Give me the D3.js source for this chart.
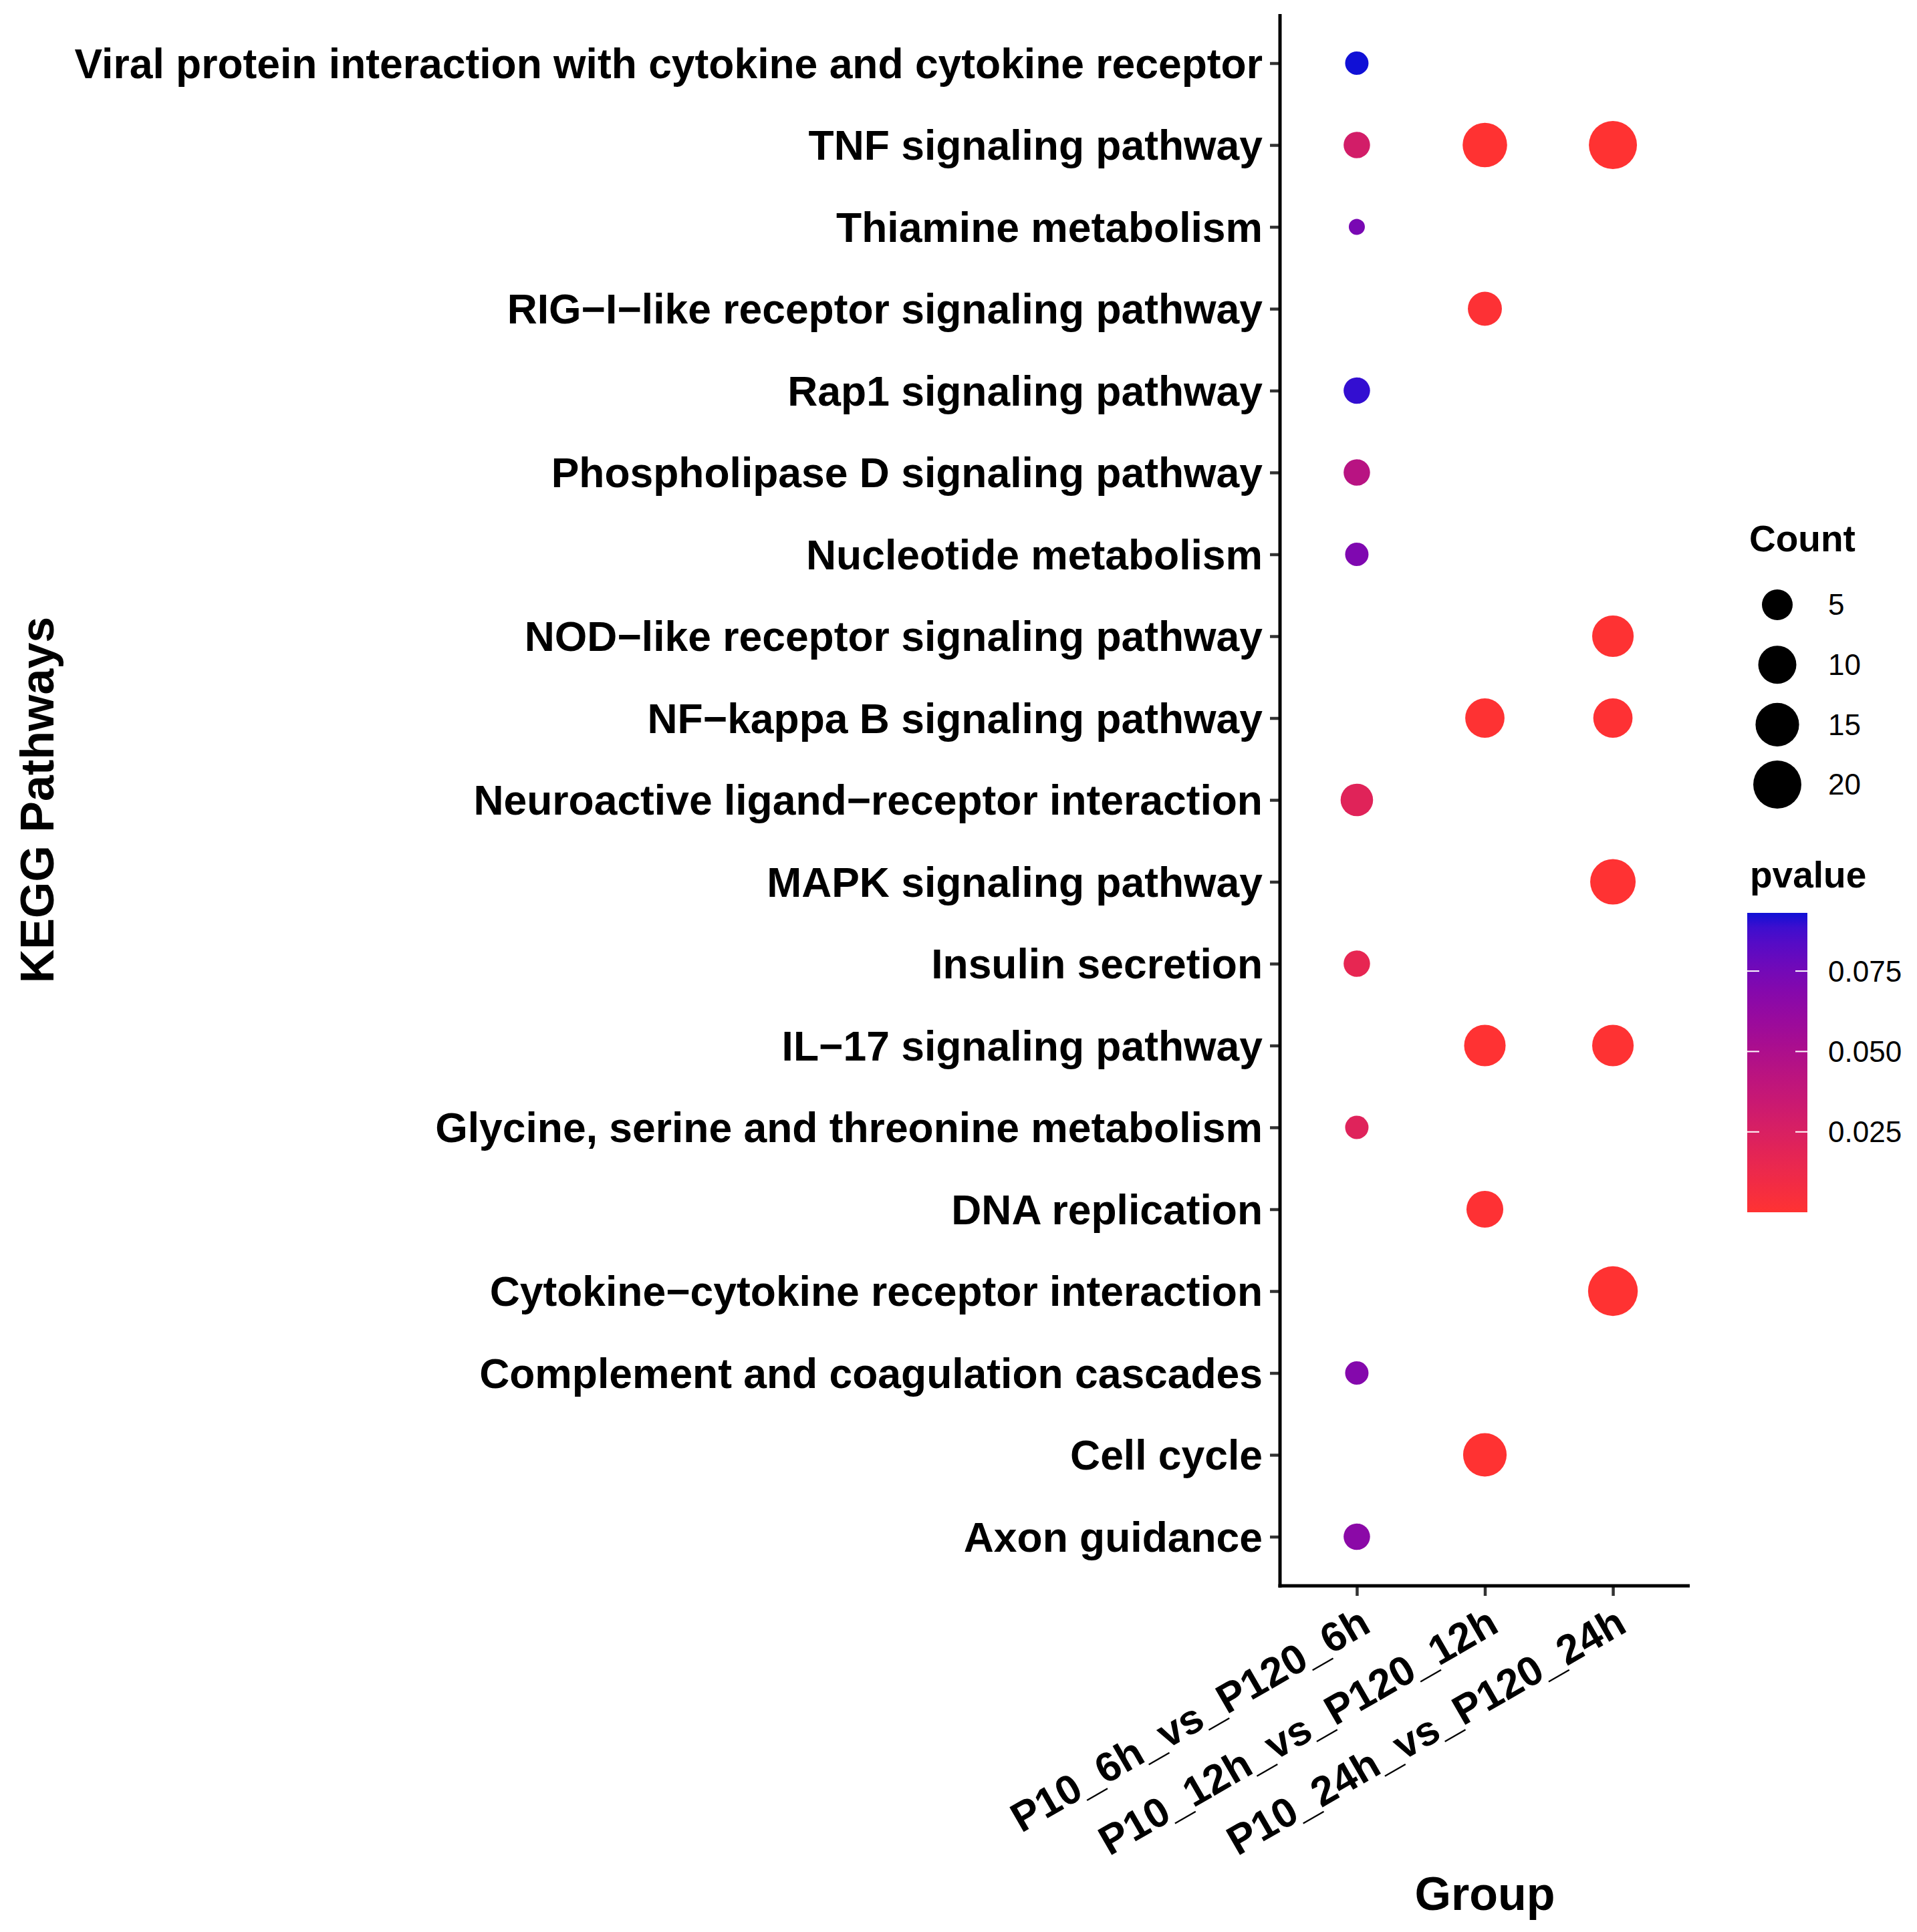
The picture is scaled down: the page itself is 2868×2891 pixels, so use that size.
<!DOCTYPE html>
<html>
<head>
<meta charset="utf-8">
<script src="https://cdn.jsdelivr.net/npm/d3@7"></script>
<style>
  html, body { margin: 0; padding: 0; background: #ffffff; }
  svg { display: block; }
</style>
</head>
<body>
<div id="chart"></div>
<script>
// ---------------- data ----------------
const pathways = [
  "Viral protein interaction with cytokine and cytokine receptor",
  "TNF signaling pathway",
  "Thiamine metabolism",
  "RIG\u2212I\u2212like receptor signaling pathway",
  "Rap1 signaling pathway",
  "Phospholipase D signaling pathway",
  "Nucleotide metabolism",
  "NOD\u2212like receptor signaling pathway",
  "NF\u2212kappa B signaling pathway",
  "Neuroactive ligand\u2212receptor interaction",
  "MAPK signaling pathway",
  "Insulin secretion",
  "IL\u221217 signaling pathway",
  "Glycine, serine and threonine metabolism",
  "DNA replication",
  "Cytokine\u2212cytokine receptor interaction",
  "Complement and coagulation cascades",
  "Cell cycle",
  "Axon guidance"
];
const groups = ["P10_6h_vs_P120_6h", "P10_12h_vs_P120_12h", "P10_24h_vs_P120_24h"];

// P10_6h_vs_P120_6h
const g6hPathways = [
  "Viral protein interaction with cytokine and cytokine receptor",
  "TNF signaling pathway",
  "Thiamine metabolism",
  "Rap1 signaling pathway",
  "Phospholipase D signaling pathway",
  "Nucleotide metabolism",
  "Neuroactive ligand\u2212receptor interaction",
  "Insulin secretion",
  "Glycine, serine and threonine metabolism",
  "Complement and coagulation cascades",
  "Axon guidance"
];
const g6hCounts  = [2, 3, 1, 3, 3, 2, 6, 3, 2, 2, 3];
const g6hPvalues = [0.0931, 0.029, 0.073, 0.090, 0.044, 0.071, 0.020, 0.016, 0.021, 0.069, 0.066];

// P10_12h_vs_P120_12h
const g12hPathways = [
  "TNF signaling pathway",
  "RIG\u2212I\u2212like receptor signaling pathway",
  "NF\u2212kappa B signaling pathway",
  "IL\u221217 signaling pathway",
  "DNA replication",
  "Cell cycle"
];
const g12hCounts  = [16, 7, 11, 13, 9, 15];
const g12hPvalues = [0.0002, 0.0012, 0.0006, 0.0003, 0.0009, 0.0001];

// P10_24h_vs_P120_24h
const g24hPathways = [
  "TNF signaling pathway",
  "NOD\u2212like receptor signaling pathway",
  "NF\u2212kappa B signaling pathway",
  "MAPK signaling pathway",
  "IL\u221217 signaling pathway",
  "Cytokine\u2212cytokine receptor interaction"
];
const g24hCounts  = [20, 13, 11, 17, 13, 22];
const g24hPvalues = [0.00002, 0.0006, 0.0010, 0.0003, 0.0005, 0.00001];

const countBreaks = [5, 10, 15, 20];
const pvalueBreaks = [0.025, 0.050, 0.075];

// ---------------- build records ----------------
const records = [];
[[g6hPathways, g6hCounts, g6hPvalues, groups[0]],
 [g12hPathways, g12hCounts, g12hPvalues, groups[1]],
 [g24hPathways, g24hCounts, g24hPvalues, groups[2]]].forEach(([ps, cs, pv, g]) => {
  ps.forEach((p, i) => records.push({pathway: p, group: g, count: cs[i], pvalue: pv[i]}));
});

// ---------------- layout ----------------
const W = 2868, H = 2891;
const panel = {left: 1915, right: 2528, top: 21, bottom: 2373};
const FONT = "'Liberation Sans', Arial, Helvetica, sans-serif";

const svg = d3.select("#chart").append("svg")
  .attr("width", W).attr("height", H)
  .attr("viewBox", `0 0 ${W} ${H}`)
  .style("font-family", FONT);

svg.append("rect").attr("width", W).attr("height", H).attr("fill", "#ffffff");

const x = d3.scalePoint().domain(groups).range([panel.left, panel.right]).padding(0.6);
const y = d3.scalePoint().domain(pathways).range([panel.top, panel.bottom]).padding(0.6);

const cExt = d3.extent(records, d => d.count);
const pExt = d3.extent(records, d => d.pvalue);
const sizeNorm = d3.scaleLinear().domain(cExt).range([0, 1]);
const diamLin = d3.scaleLinear().domain([0, 1]).range([24, 74.4]);
const diam = v => diamLin(Math.sqrt(Math.max(0, sizeNorm(v))));

const color = d3.scaleLinear().domain(pExt).range(["#ff3232", "#1010d6"]).interpolate(d3.interpolateLab);

// ---------------- points ----------------
svg.append("g").selectAll("circle")
  .data(records)
  .join("circle")
  .attr("cx", d => x(d.group))
  .attr("cy", d => y(d.pathway))
  .attr("r", d => diam(d.count) / 2)
  .attr("fill", d => color(d.pvalue));

// ---------------- axes ----------------
const yAxis = d3.axisLeft(y).tickSize(15).tickSizeOuter(0).tickPadding(11);
const gy = svg.append("g").attr("transform", `translate(${panel.left},0)`).call(yAxis);
gy.select(".domain").remove();
gy.selectAll(".tick line").attr("stroke", "#333333").attr("stroke-width", 4.5);
gy.selectAll(".tick text")
  .attr("fill", "#000000")
  .attr("font-size", 62.4)
  .attr("font-weight", "bold")
  .attr("font-family", FONT)
  .attr("dy", "0.35em");

const xAxis = d3.axisBottom(x).tickSize(15).tickSizeOuter(0);
const gx = svg.append("g").attr("transform", `translate(0,${panel.bottom})`).call(xAxis);
gx.select(".domain").remove();
gx.selectAll(".tick line").attr("stroke", "#333333").attr("stroke-width", 4.5);
gx.selectAll(".tick text").remove();
gx.selectAll(".tick").append("text")
  .attr("fill", "#000000")
  .attr("font-size", 62)
  .attr("font-weight", "bold")
  .attr("font-family", FONT)
  .attr("text-anchor", "end")
  .attr("transform", "translate(23,67) rotate(-30)")
  .text(d => d);

// axis lines
svg.append("line")
  .attr("x1", panel.left).attr("x2", panel.left)
  .attr("y1", panel.top).attr("y2", panel.bottom + 2.5)
  .attr("stroke", "#000").attr("stroke-width", 5);
svg.append("line")
  .attr("x1", panel.left - 2.5).attr("x2", panel.right)
  .attr("y1", panel.bottom).attr("y2", panel.bottom)
  .attr("stroke", "#000").attr("stroke-width", 5);

// axis titles
svg.append("text")
  .attr("x", (panel.left + panel.right) / 2).attr("y", 2858)
  .attr("text-anchor", "middle")
  .attr("font-size", 70).attr("font-weight", "bold")
  .text("Group");

svg.append("text")
  .attr("transform", `translate(80,${(panel.top + panel.bottom) / 2}) rotate(-90)`)
  .attr("text-anchor", "middle")
  .attr("font-size", 70).attr("font-weight", "bold")
  .text("KEGG Pathways");

// ---------------- legends ----------------
const legX = 2614, keyCX = 2659, labX = 2735;

// Count legend
svg.append("text").attr("x", 2617).attr("y", 825)
  .attr("font-size", 55).attr("font-weight", "bold").text("Count");
const keyY = d3.scalePoint().domain(countBreaks).range([905, 1174]);
const lg = svg.append("g");
lg.selectAll("circle").data(countBreaks).join("circle")
  .attr("cx", keyCX).attr("cy", d => keyY(d))
  .attr("r", d => diam(d) / 2).attr("fill", "#000");
lg.selectAll("text").data(countBreaks).join("text")
  .attr("x", labX).attr("y", d => keyY(d)).attr("dy", "0.35em")
  .attr("font-size", 44).text(d => d);

// pvalue colourbar
svg.append("text").attr("x", 2618).attr("y", 1328)
  .attr("font-size", 55).attr("font-weight", "bold").text("pvalue");

const barTop = 1366, barBottom = 1814, barW = 90;
const barScale = d3.scaleLinear().domain(pExt).range([barBottom, barTop]);

const defs = svg.append("defs");
const grad = defs.append("linearGradient").attr("id", "pgrad")
  .attr("x1", 0).attr("y1", 1).attr("x2", 0).attr("y2", 0);
d3.range(0, 1.0001, 0.05).forEach(t => {
  grad.append("stop").attr("offset", t)
    .attr("stop-color", color(pExt[0] + t * (pExt[1] - pExt[0])));
});
svg.append("rect").attr("x", legX).attr("y", barTop)
  .attr("width", barW).attr("height", barBottom - barTop)
  .attr("fill", "url(#pgrad)");

const cb = svg.append("g");
pvalueBreaks.forEach(v => {
  const yy = barScale(v);
  cb.append("line").attr("x1", legX).attr("x2", legX + barW / 5)
    .attr("y1", yy).attr("y2", yy).attr("stroke", "#ffffff").attr("stroke-width", 2);
  cb.append("line").attr("x1", legX + barW - barW / 5).attr("x2", legX + barW)
    .attr("y1", yy).attr("y2", yy).attr("stroke", "#ffffff").attr("stroke-width", 2);
  cb.append("text").attr("x", labX).attr("y", yy).attr("dy", "0.35em")
    .attr("font-size", 44).text(d3.format(".3f")(v));
});
</script>
</body>
</html>
